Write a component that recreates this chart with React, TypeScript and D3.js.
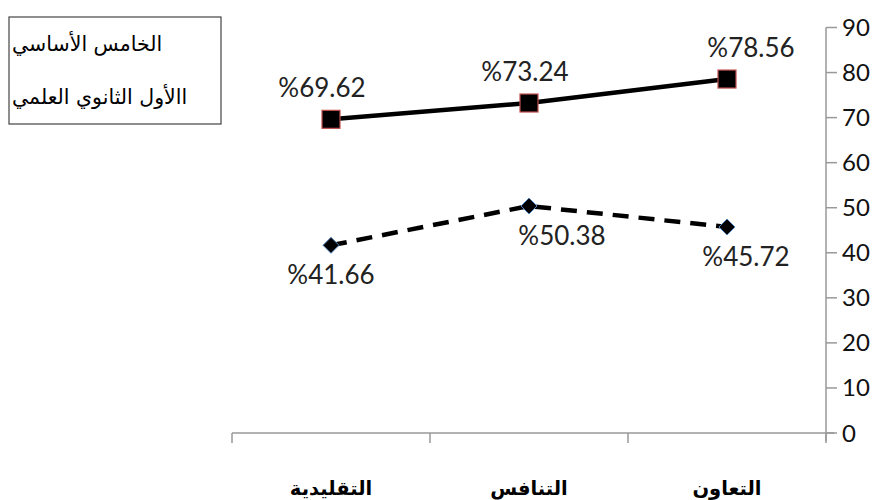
import React from "react";
import * as d3 from "d3";

// Categories (right-to-left order on the x axis)
const categories = ["التقليدية", "التنافس", "التعاون"];
const seriesNames = ["الخامس الأساسي", "االأول الثانوي العلمي"];
const basicFifth = [69.62, 73.24, 78.56];
const secondaryFirst = [41.66, 50.38, 45.72];
const yTicks = [0, 10, 20, 30, 40, 50, 60, 70, 80, 90];

const W = 885;
const H = 500;
const left = 232;
const right = 826;
const top = 27.5;
const bottom = 433;

export default function App() {
  const x = d3.scaleBand<string>().domain(categories).range([left, right]).padding(0);
  const y = d3.scaleLinear().domain([0, 90]).range([bottom, top]);
  const cx = (c: string) => (x(c) as number) + x.bandwidth() / 2;

  const line = d3
    .line<number>()
    .x((_, i) => cx(categories[i]))
    .y((v) => y(v));

  const numFont = "Lato, 'Open Sans', sans-serif";
  const arFont = "'DejaVu Sans', sans-serif";
  // horizontal nudges for the value labels
  const upperDx = [-9, -4, 24];
  const lowerDx = [0, 33, 19];

  return (
    <svg
      width={W}
      height={H}
      style={{ position: "absolute", left: 0, top: 0, background: "#fff" }}
    >
      {/* x axis */}
      <line x1={left} x2={right + 8} y1={bottom} y2={bottom} stroke="#999" strokeWidth={1.5} />
      {[...categories.map((c) => x(c) as number), right].map((t, i) => (
        <line key={i} x1={t} x2={t} y1={bottom} y2={bottom + 10} stroke="#999" strokeWidth={1.5} />
      ))}
      {categories.map((c) => (
        <text
          key={c}
          x={cx(c)}
          y={495}
          textAnchor="middle"
          fontFamily={arFont}
          fontWeight="bold"
          fontSize={19.5}
          fill="#000"
        >
          {c}
        </text>
      ))}

      {/* y axis on the right */}
      <line x1={right} x2={right} y1={top} y2={bottom + 8} stroke="#999" strokeWidth={1.5} />
      {yTicks.map((t) => (
        <g key={t}>
          <line x1={right} x2={right + 11} y1={y(t)} y2={y(t)} stroke="#999" strokeWidth={1.5} />
          <text x={842} y={y(t) + 8.5} fontFamily={numFont} fontSize={24} fill="#111">
            {t}
          </text>
        </g>
      ))}

      {/* lower series: dashed with diamonds */}
      <path
        d={line(secondaryFirst) || ""}
        fill="none"
        stroke="#000"
        strokeWidth={4.5}
        strokeDasharray="16 10"
      />
      {secondaryFirst.map((v, i) => {
        const px = cx(categories[i]);
        const py = y(v);
        const s = 8;
        return (
          <g key={i}>
            <path
              d={`M${px},${py - s}L${px + s},${py}L${px},${py + s}L${px - s},${py}Z`}
              fill="#000"
              stroke="#4f81bd"
              strokeWidth={1}
            />
            <text
              x={px + lowerDx[i]}
              y={py + 39}
              textAnchor="middle"
              fontFamily={numFont}
              fontSize={26}
              fill="#222"
            >
              {"%" + v.toFixed(2)}
            </text>
          </g>
        );
      })}

      {/* upper series: solid with squares */}
      <path d={line(basicFifth) || ""} fill="none" stroke="#000" strokeWidth={4.5} />
      {basicFifth.map((v, i) => {
        const px = cx(categories[i]);
        const py = y(v);
        const s = 9;
        return (
          <g key={i}>
            <rect x={px - s} y={py - s} width={2 * s} height={2 * s} fill="#000" stroke="#c0504d" strokeWidth={1.2} />
            <text
              x={px + upperDx[i]}
              y={py - 22}
              textAnchor="middle"
              fontFamily={numFont}
              fontSize={26}
              fill="#222"
            >
              {"%" + v.toFixed(2)}
            </text>
          </g>
        );
      })}

      {/* legend */}
      <rect x={9} y={17} width={212} height={107} fill="#fff" stroke="#444" strokeWidth={1.2} />
      {seriesNames.map((n, i) => (
        <text key={n} x={12} y={51 + i * 53} fontFamily={arFont} fontSize={20.5} fill="#000">
          {n}
        </text>
      ))}
    </svg>
  );
}
